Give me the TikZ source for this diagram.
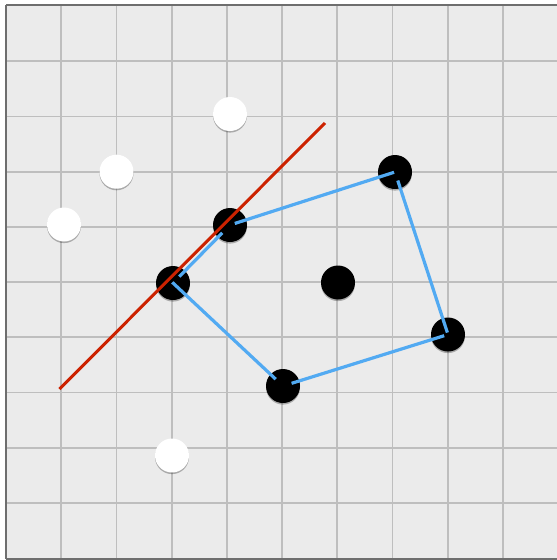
\documentclass[tikz,border=0pt]{standalone}
\usetikzlibrary{shadows}
\definecolor{bg}{HTML}{EBEBEB}
\definecolor{gridc}{HTML}{BEBEBE}
\definecolor{framec}{HTML}{6E6E6E}
\definecolor{hullblue}{HTML}{52AAF2}
\definecolor{linered}{HTML}{CC2200}
\begin{document}
\begin{tikzpicture}[x=1pt,y=-1pt,
  dot/.style={circle, minimum size=34pt, inner sep=0pt,
    drop shadow={shadow xshift=0pt, shadow yshift=-1.6pt, opacity=0.28, fill=black}},
  wdot/.style={dot, fill=white},
  bdot/.style={dot, fill=black},
  gridline/.style={draw=gridc, line width=1.8pt},
  frameline/.style={draw=framec, line width=1.8pt},
  hull/.style={draw=hullblue, line width=3.2pt},
  support/.style={draw=linered, line width=3pt}]
\useasboundingbox (0,0) rectangle (557,560);
\clip (0,0) rectangle (557,560);
\fill[white] (0,0) rectangle (557,560);
\fill[bg] (6,6) rectangle (562,558);
\foreach \k in {1,...,9} {
  \path[gridline] ({6+55.2*\k},6) -- ({6+55.2*\k},558);
  \path[gridline] (6,{6+55.2*\k}) -- (562,{6+55.2*\k});
}
\path[frameline] (6,5.1) -- (562,5.1);
\path[frameline] (5.9,5) -- (5.9,559);
\path[frameline] (6,558.6) -- (562,558.6);
% white points
\node[wdot] (w1) at (230,114) {};
\node[wdot] (w2) at (116.5,171.7) {};
\node[wdot] (w3) at (64,224.5) {};
\node[wdot] (w4) at (172,455.5) {};
% black points
\node[bdot] (L) at (173,283) {};
\node[bdot] (U) at (230,225) {};
\node[bdot] (TR) at (395,172) {};
\node[bdot] (R) at (448,334.5) {};
\node[bdot] (B) at (283,386) {};
\node[bdot] (M) at (338,282.5) {};
% hull
\draw[hull, shorten <=-1pt, shorten >=10pt] (L.center) -- (B.center);
\draw[hull, shorten <=9pt, shorten >=4pt] (B.center) -- (R.center);
\draw[hull, shorten <=2pt, shorten >=9pt] (R.center) -- (TR.center);
\draw[hull, shorten <=1pt, shorten >=5pt] (TR.center) -- (U.center);
\draw[hull, shorten <=11pt, shorten >=9pt] (U.center) -- (L.center);
% supporting line
\coordinate (r1) at (59.5,389);
\coordinate (r2) at (325,123);
\draw[support] (r1) -- (r2);
\end{tikzpicture}
\end{document}
